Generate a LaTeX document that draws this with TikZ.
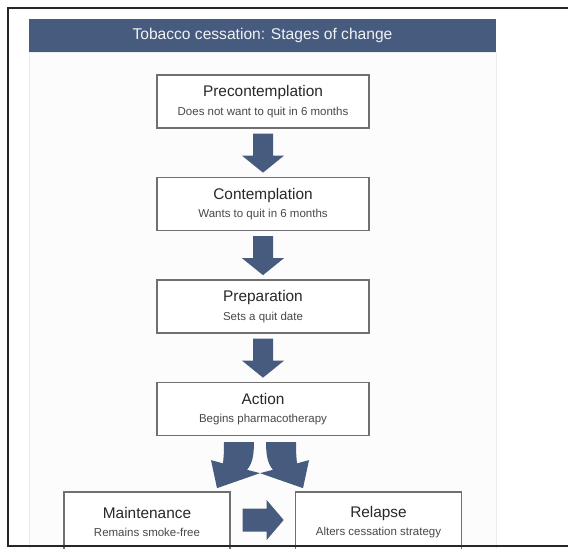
\documentclass[tikz,border=0pt]{standalone}
\usepackage{fontspec}
\setmainfont{Liberation Sans}
\usetikzlibrary{calc}
\definecolor{stageblue}{RGB}{70,91,126}
\definecolor{boxgray}{RGB}{112,112,112}
\definecolor{titlegray}{RGB}{40,40,40}
\definecolor{subgray}{RGB}{72,72,72}
\tikzset{
	stagebox/.style={draw=boxgray, line width=1.3pt, fill=white, minimum width=212pt, minimum height=53pt, inner sep=0pt, align=center, font=\fontsize{11.5}{18.5}\selectfont, text=subgray},
	lowbox/.style={stagebox, minimum width=166pt, minimum height=60pt},
	stagearrow/.style={fill=stageblue},
}
\newcommand\stagetitle[1]{{\fontsize{15.4}{18.5}\selectfont\color{titlegray}#1}}
\def\blockdown(#1){\fill[stagearrow, shift={(#1.south)}] (-10,5) -- (10,5) -- (10,27) -- (21,27) -- (0,44) -- (-21,27) -- (-10,27) -- cycle;}
\def\blockbend[#1]{\fill[stagearrow, shift={($(act.south)+(-3,0)$)}, #1] (-36,6) -- (-6,6) .. controls (-6,20) and (-8,28) .. (-13,33.6) -- (0,37) -- (-43,52) -- (-49,24) -- (-37,27.2) .. controls (-36,18) and (-36,12) .. (-36,6) -- cycle;}

\begin{document}
\begin{tikzpicture}[x=1pt, y=-1pt]
			%%%%% START %%%%%
			\useasboundingbox (0,0) rectangle (568,549);
			\fill[white] (0,0) rectangle (568,549);
			
			% panel and banner
			\draw[color=black!7, fill=black!1] (29,52) rectangle (496,560);
			\fill[stageblue] (29,19) rectangle (496,52);
			\node[text=white!92!stageblue, font=\fontsize{15.6}{18}\selectfont] (head) at (262.5,35.5) {Tobacco cessation: Stages of change};
			
			% stages
			\node[stagebox] (pre) at (263,101.5) {\stagetitle{Precontemplation}\\Does not want to quit in 6 months};
			\node[stagebox] (con) at (263,204) {\stagetitle{Contemplation}\\Wants to quit in 6 months};
			\node[stagebox] (prep) at (263,306.5) {\stagetitle{Preparation}\\Sets a quit date};
			\node[stagebox] (act) at (263,409) {\stagetitle{Action}\\Begins pharmacotherapy};
			
			\node[lowbox] (maint) at (147,522) {\stagetitle{Maintenance}\\Remains smoke-free};
			\node[lowbox] (rel) at (378.5,522) {\stagetitle{Relapse}\\Alters cessation strategy};
			
			% arrows
			\blockdown(pre)
			\blockdown(con)
			\blockdown(prep)
			
			\blockbend[]
			\blockbend[xscale=-1]
			
			\fill[stagearrow, shift={(maint.east)}] (12,-13.5) -- (36,-13.5) -- (36,-22) -- (53,-2) -- (36,18) -- (36,9.5) -- (12,9.5) -- cycle;
			
			% frame
			\draw[line width=1.8pt, color=black!85] (568,8) -- (8,8) -- (8,546) -- (568,546);
			%%%%% END %%%%%
\end{tikzpicture}
\end{document}
